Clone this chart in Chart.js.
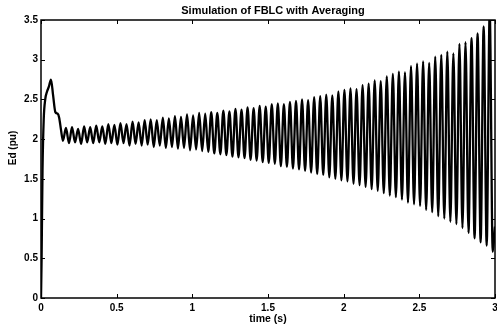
<!DOCTYPE html>
<html><head><meta charset="utf-8">
<script src="https://cdn.jsdelivr.net/npm/chart.js@4/dist/chart.umd.min.js"></script>
<style>html,body{margin:0;padding:0;background:#fff;}canvas{display:block;}</style>
</head><body>
<canvas id="c" width="497" height="327"></canvas>
<script>
const titleText = 'Simulation of FBLC with Averaging';
const xTitle = 'time (s)';
const yTitle = 'Ed (pu)';
const xTicks = [0, 0.5, 1, 1.5, 2, 2.5, 3];
const yTicks = [0, 0.5, 1, 1.5, 2, 2.5, 3, 3.5];

// start-up transient
const startTime = [0, 0.004, 0.01, 0.018, 0.028, 0.04, 0.052, 0.066, 0.08, 0.095, 0.11, 0.12, 0.132];
const startEd   = [0, 0.5, 1.6, 2.25, 2.5, 2.6, 2.66, 2.75, 2.55, 2.34, 2.32, 2.27, 2.12];

// oscillation maxima
const peakTime = [0.165,0.205,0.245,0.285,0.325,0.365,0.405,0.445,0.485,0.525,
  0.565,0.605,0.645,0.685,0.725,0.765,0.805,0.845,0.885,0.925,
  0.965,1.005,1.045,1.085,1.125,1.165,1.205,1.245,1.285,1.325,
  1.365,1.405,1.445,1.485,1.525,1.565,1.605,1.645,1.685,1.725,
  1.765,1.805,1.845,1.885,1.925,1.965,2.005,2.045,2.085,2.125,
  2.165,2.205,2.245,2.285,2.325,2.365,2.405,2.445,2.485,2.525,
  2.565,2.605,2.645,2.685,2.725,2.765,2.805,2.845,2.885,2.925,2.965];
const peakEd = [2.14,2.15,2.13,2.16,2.15,2.17,2.16,2.19,2.18,2.20,
  2.19,2.22,2.21,2.24,2.25,2.24,2.27,2.26,2.29,2.28,
  2.31,2.30,2.33,2.32,2.34,2.33,2.36,2.35,2.38,2.37,
  2.40,2.39,2.42,2.41,2.44,2.45,2.44,2.47,2.48,2.50,
  2.49,2.53,2.54,2.56,2.55,2.60,2.62,2.64,2.63,2.68,
  2.70,2.74,2.73,2.79,2.82,2.85,2.84,2.92,2.95,2.98,
  2.96,3.04,3.06,3.10,3.08,3.20,3.22,3.27,3.33,3.42,3.60];

// oscillation minima
const troughTime = [0.145,0.185,0.225,0.265,0.305,0.345,0.385,0.425,0.465,0.505,
  0.545,0.585,0.625,0.665,0.705,0.745,0.785,0.825,0.865,0.905,
  0.945,0.985,1.025,1.065,1.105,1.145,1.185,1.225,1.265,1.305,
  1.345,1.385,1.425,1.465,1.505,1.545,1.585,1.625,1.665,1.705,
  1.745,1.785,1.825,1.865,1.905,1.945,1.985,2.025,2.065,2.105,
  2.145,2.185,2.225,2.265,2.305,2.345,2.385,2.425,2.465,2.505,
  2.545,2.585,2.625,2.665,2.705,2.745,2.785,2.825,2.865,2.905,2.945,2.985];
const troughEd = [1.98,1.95,1.96,1.94,1.96,1.95,1.96,1.94,1.95,1.93,
  1.95,1.92,1.94,1.92,1.93,1.90,1.92,1.89,1.90,1.88,
  1.89,1.86,1.87,1.85,1.84,1.82,1.81,1.80,1.78,1.77,
  1.76,1.74,1.73,1.71,1.70,1.69,1.66,1.65,1.63,1.62,
  1.60,1.58,1.56,1.55,1.52,1.50,1.48,1.47,1.44,1.42,
  1.40,1.37,1.35,1.32,1.29,1.27,1.24,1.20,1.18,1.16,
  1.11,1.08,1.03,1.00,0.96,0.93,0.88,0.82,0.75,0.70,0.66,0.58];

const endTime = [3.0];
const endEd = [0.9];

const pts = [];
function addPts(ts, vs) { ts.forEach((t, i) => pts.push({x: t, y: vs[i]})); }
addPts(startTime, startEd);
addPts(peakTime, peakEd);
addPts(troughTime, troughEd);
addPts(endTime, endEd);
pts.sort((a, b) => a.x - b.x);

const FONT = 'Liberation Sans, Arial, Helvetica, sans-serif';
const fmt = v => String(Math.round(v * 10) / 10);

const framePlugin = {
  id: 'frame',
  afterDraw(chart) {
    const {ctx, chartArea: a, scales: {x, y}} = chart;
    ctx.save();
    ctx.strokeStyle = '#000';
    ctx.lineWidth = 1.5;
    ctx.strokeRect(a.left, a.top, a.right - a.left, a.bottom - a.top);
    ctx.lineWidth = 1;
    ctx.beginPath();
    xTicks.forEach(v => {
      const p = Math.round(x.getPixelForValue(v)) + 0.5;
      ctx.moveTo(p, a.bottom); ctx.lineTo(p, a.bottom - 4);
      ctx.moveTo(p, a.top); ctx.lineTo(p, a.top + 4);
    });
    yTicks.forEach(v => {
      const p = Math.round(y.getPixelForValue(v)) + 0.5;
      ctx.moveTo(a.left, p); ctx.lineTo(a.left + 4, p);
      ctx.moveTo(a.right, p); ctx.lineTo(a.right - 4, p);
    });
    ctx.stroke();
    ctx.fillStyle = '#000';
    ctx.textAlign = 'center';
    ctx.textBaseline = 'middle';
    // chart title, centred over the plot
    ctx.font = 'bold 11px ' + FONT;
    ctx.fillText(titleText, (a.left + a.right) / 2 + 5, 11);
    // y axis title
    ctx.font = 'bold 10px ' + FONT;
    ctx.translate(13, 148);
    ctx.rotate(-Math.PI / 2);
    ctx.fillText(yTitle, 0, 0);
    ctx.restore();
  }
};

new Chart(document.getElementById('c'), {
  type: 'line',
  data: {
    datasets: [{
      data: pts,
      borderColor: '#000',
      borderWidth: 2.3,
      pointRadius: 0,
      fill: false,
      cubicInterpolationMode: 'monotone'
    }]
  },
  options: {
    responsive: false,
    animation: false,
    layout: {padding: {left: 0, right: 2, top: 20, bottom: 0}},
    plugins: {
      legend: {display: false},
      tooltip: {enabled: false},
      title: {display: false}
    },
    scales: {
      x: {
        type: 'linear', min: 0, max: 3,
        grid: {display: false, drawTicks: false},
        border: {display: false},
        ticks: {stepSize: 0.5, color: '#000', padding: 4, maxRotation: 0, autoSkip: false,
          callback: fmt,
          font: {family: FONT, weight: 'bold', size: 10}},
        title: {display: true, text: xTitle, color: '#000',
          font: {family: FONT, weight: 'bold', size: 10.5}, padding: {top: 0, bottom: 2}},
        afterFit(s) { s.height = 29; s.paddingLeft = 0; s.paddingRight = 0; }
      },
      y: {
        min: 0, max: 3.5,
        grid: {display: false, drawTicks: false},
        border: {display: false},
        ticks: {stepSize: 0.5, color: '#000', padding: 3, callback: fmt,
          font: {family: FONT, weight: 'bold', size: 10}},
        afterFit(s) { s.width = 41; s.paddingTop = 0; s.paddingBottom = 0; }
      }
    }
  },
  plugins: [framePlugin]
});
</script>
</body></html>
